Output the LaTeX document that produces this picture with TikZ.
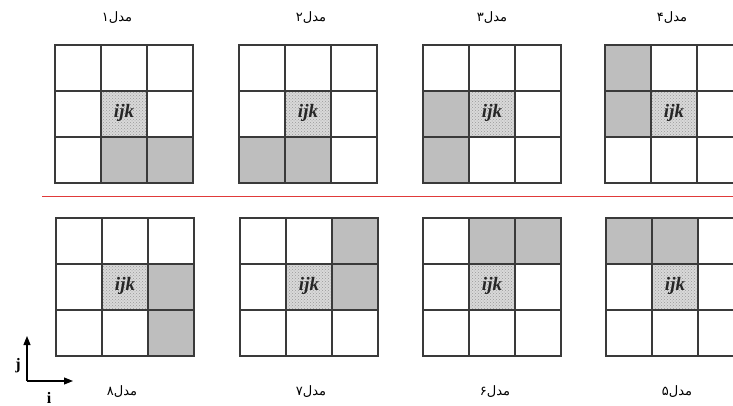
\documentclass[tikz,border=0pt]{standalone}
\usepackage{fontspec}
\usetikzlibrary{arrows.meta,patterns}
\TeXXeTstate=1
\newfontfamily\arabicfont[Script=Arabic]{DejaVu Sans}
\newfontfamily\ijkfont{Liberation Serif}
\definecolor{gridline}{HTML}{3A3A3A}
\definecolor{shadegray}{HTML}{BEBEBE}
\definecolor{centergray}{HTML}{D9D9D9}
\definecolor{redline}{HTML}{E03A3A}
\tikzset{
  cellline/.style={draw=gridline, line width=1.3pt, line cap=rect},
  shadecell/.style={fill=shadegray},
  centercell/.style={fill=centergray},
  centerdots/.style={pattern=crosshatch dots, pattern color=gray!80},
  ijklabel/.style={font=\ijkfont\fontsize{19}{21}\selectfont\bfseries\itshape, text=black!85},
  modellabel/.style={font=\arabicfont\fontsize{13}{15}\selectfont, text=black},
  axisarrow/.style={line width=1.1pt, -{Triangle[length=9pt,width=7pt]}},
  axislabel/.style={font=\ijkfont\fontsize{16}{18}\selectfont\bfseries}
}
\begin{document}
\begin{tikzpicture}[x=1pt,y=-1pt]
\useasboundingbox (0,0) rectangle (733,406);
\clip (0,0) rectangle (733,406);
\fill[white] (0,0) rectangle (733,406);
% grids: origin x / origin y / shaded cells (col/row) / name
\foreach \gx/\gy/\cells/\nm in {
   55/45/{1/2,2/2}/c1,
  239/45/{0/2,1/2}/c2,
  423/45/{0/1,0/2}/c3,
  605/45/{0/0,0/1}/c4,
   56/218/{2/1,2/2}/c8,
  240/218/{2/0,2/1}/c7,
  423/218/{1/0,2/0}/c6,
  606/218/{0/0,1/0}/c5}{
  \foreach \cc/\rr in \cells {
    \fill[shadecell] (\gx+46*\cc,\gy+46*\rr) rectangle ++(46,46);
  }
  \fill[centercell] (\gx+46,\gy+46) rectangle ++(46,46);
  \fill[centerdots] (\gx+46,\gy+46) rectangle ++(46,46);
  \foreach \k in {0,1,2,3} {
    \draw[cellline] (\gx+46*\k,\gy) -- ++(0,138);
    \draw[cellline] (\gx,\gy+46*\k) -- ++(138,0);
  }
  \node[ijklabel] (\nm) at (\gx+69,\gy+68) {ijk};
}
% separator
\draw[redline, line width=1pt] (42,197) -- (733,197);
% labels
\node[modellabel] (l1) at (117,18) {\beginR مدل۱\endR};
\node[modellabel] (l2) at (311,18) {\beginR مدل۲\endR};
\node[modellabel] (l3) at (492,18) {\beginR مدل۳\endR};
\node[modellabel] (l4) at (672,18) {\beginR مدل۴\endR};
\node[modellabel] (l8) at (122,392) {\beginR مدل۸\endR};
\node[modellabel] (l7) at (311,392) {\beginR مدل۷\endR};
\node[modellabel] (l6) at (495,392) {\beginR مدل۶\endR};
\node[modellabel] (l5) at (677,392) {\beginR مدل۵\endR};
% axes
\coordinate (o) at (27,381);
\coordinate (yend) at (27,336);
\coordinate (xend) at (73,381);
\draw[axisarrow] (o) -- (yend);
\draw[axisarrow] (o) -- (xend);
\node[axislabel] (jl) at (18,366) {j};
\node[axislabel] (il) at (49,398) {i};
\end{tikzpicture}
\end{document}
